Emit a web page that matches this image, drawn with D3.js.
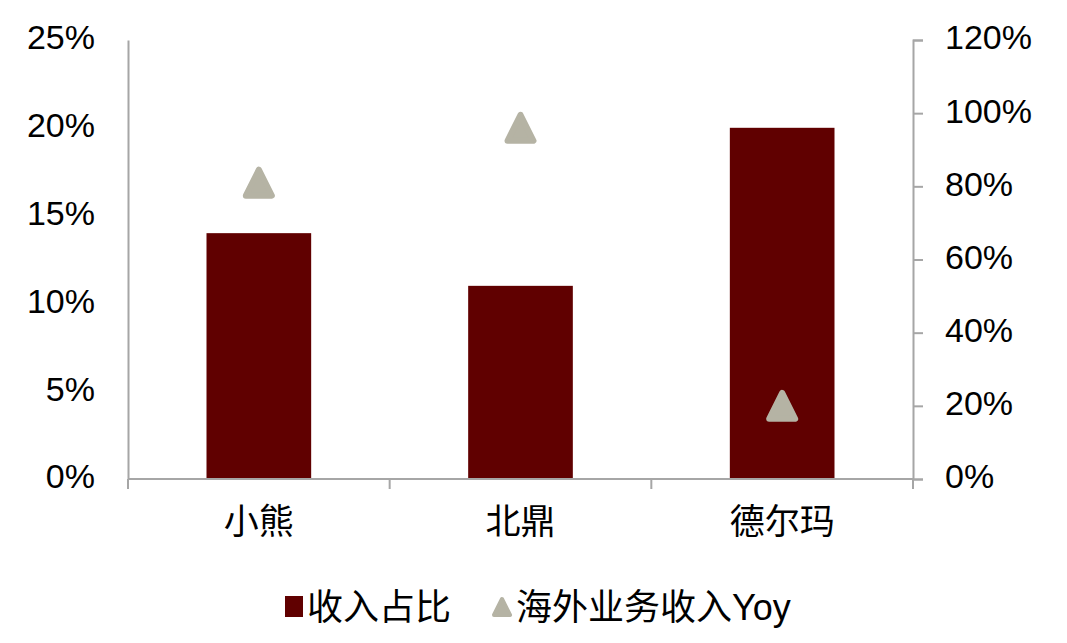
<!DOCTYPE html>
<html lang="zh">
<head>
  <meta charset="UTF-8">
  <title>收入占比</title>
  <style>
    body { margin: 0; background: #fff; }
    svg text { font-family: "Liberation Sans", Arial, "Noto Sans CJK SC", sans-serif; fill: #000; }
    .cjk { font-family: "Liberation Sans", "Noto Sans CJK SC", sans-serif; }
  </style>
</head>
<body>
  <svg id="chart" width="1067" height="643"></svg>

  <script src="https://d3js.org/d3.v7.min.js"></script>
  <script>
    // data
    const categories = ["小熊", "北鼎", "德尔玛"];
    const shareValues = [0.14, 0.11, 0.20];      // 收入占比 (left axis)
    const yoyValues = [0.81, 0.96, 0.20];        // 海外业务收入Yoy (right axis)
    const leftTicks = [0, 0.05, 0.10, 0.15, 0.20, 0.25];
    const rightTicks = [0, 0.2, 0.4, 0.6, 0.8, 1.0, 1.2];
    const legendLabels = ["收入占比", "海外业务收入Yoy"];

    const barColor = "#600000";
    const triColor = "#b5b3a4";
    const axisColor = "#a6a6a6";

    const svg = d3.select("#chart");
    const plotLeft = 128, plotRight = 913, plotTop = 40, plotBottom = 479;

    const x = d3.scaleBand().domain(categories).range([plotLeft, plotRight]).paddingInner(0.6).paddingOuter(0.3);
    const yL = d3.scaleLinear().domain([0, 0.25]).range([plotBottom, plotTop]);
    const yR = d3.scaleLinear().domain([0, 1.2]).range([plotBottom, plotTop]);

    // bars
    svg.append("g").selectAll("rect")
      .data(categories)
      .join("rect")
      .attr("x", d => x(d))
      .attr("width", x.bandwidth())
      .attr("y", (d, i) => yL(shareValues[i]))
      .attr("height", (d, i) => plotBottom - yL(shareValues[i]))
      .attr("fill", barColor);

    // triangle marker with rounded corners
    const triPath = s => `M0,${-s / 2 + 3} L${s / 2 - 3},${s / 2 - 3} L${-s / 2 + 3},${s / 2 - 3} Z`;

    svg.append("g").selectAll("path")
      .data(categories)
      .join("path")
      .attr("d", triPath(32))
      .attr("transform", (d, i) => `translate(${x(d) + x.bandwidth() / 2},${yR(yoyValues[i])})`)
      .attr("fill", triColor)
      .attr("stroke", triColor)
      .attr("stroke-width", 6)
      .attr("stroke-linejoin", "round");

    // left axis: line only, labels
    const gL = svg.append("g").attr("transform", `translate(${plotLeft},0)`)
      .call(d3.axisLeft(yL).tickValues(leftTicks).tickFormat(d3.format(".0%")).tickSize(0).tickPadding(33));
    gL.select(".domain").attr("stroke", axisColor).attr("stroke-width", 2);
    gL.selectAll("text").attr("font-size", 34).attr("dy", "0.26em");

    // right axis
    const gR = svg.append("g").attr("transform", `translate(${plotRight},0)`)
      .call(d3.axisRight(yR).tickValues(rightTicks).tickFormat(d3.format(".0%")).tickSizeInner(10).tickSizeOuter(10).tickPadding(22));
    gR.select(".domain").attr("stroke", axisColor).attr("stroke-width", 2);
    gR.selectAll(".tick line").attr("stroke", axisColor).attr("stroke-width", 2);
    gR.selectAll("text").attr("font-size", 34).attr("dy", "0.26em");

    // bottom axis
    const boundaries = [0, 1, 2, 3].map(i => plotLeft + i * (plotRight - plotLeft) / 3);
    const gB = svg.append("g");
    gB.append("line")
      .attr("x1", plotLeft).attr("x2", plotRight).attr("y1", plotBottom).attr("y2", plotBottom)
      .attr("stroke", axisColor).attr("stroke-width", 2);
    gB.selectAll("line.tk")
      .data(boundaries)
      .join("line")
      .attr("class", "tk")
      .attr("x1", d => d).attr("x2", d => d)
      .attr("y1", plotBottom).attr("y2", plotBottom + 10)
      .attr("stroke", axisColor).attr("stroke-width", 2);
    gB.selectAll("text")
      .data(categories)
      .join("text")
      .attr("class", "cjk")
      .attr("x", d => x(d) + x.bandwidth() / 2)
      .attr("y", 522)
      .attr("dy", "0.35em")
      .attr("text-anchor", "middle")
      .attr("font-size", 35)
      .text(d => d);

    // legend
    const lg = svg.append("g");
    lg.append("rect").attr("x", 285).attr("y", 596).attr("width", 18).attr("height", 21).attr("fill", barColor);
    lg.append("text").attr("class", "cjk").attr("x", 307).attr("y", 607).attr("dy", "0.35em")
      .attr("font-size", 36).text(legendLabels[0]);
    lg.append("path").attr("d", triPath(22))
      .attr("transform", "translate(502,607)")
      .attr("fill", triColor).attr("stroke", triColor).attr("stroke-width", 4).attr("stroke-linejoin", "round");
    lg.append("text").attr("class", "cjk").attr("x", 516).attr("y", 607).attr("dy", "0.35em")
      .attr("font-size", 36).text(legendLabels[1]);
  </script>
</body>
</html>
